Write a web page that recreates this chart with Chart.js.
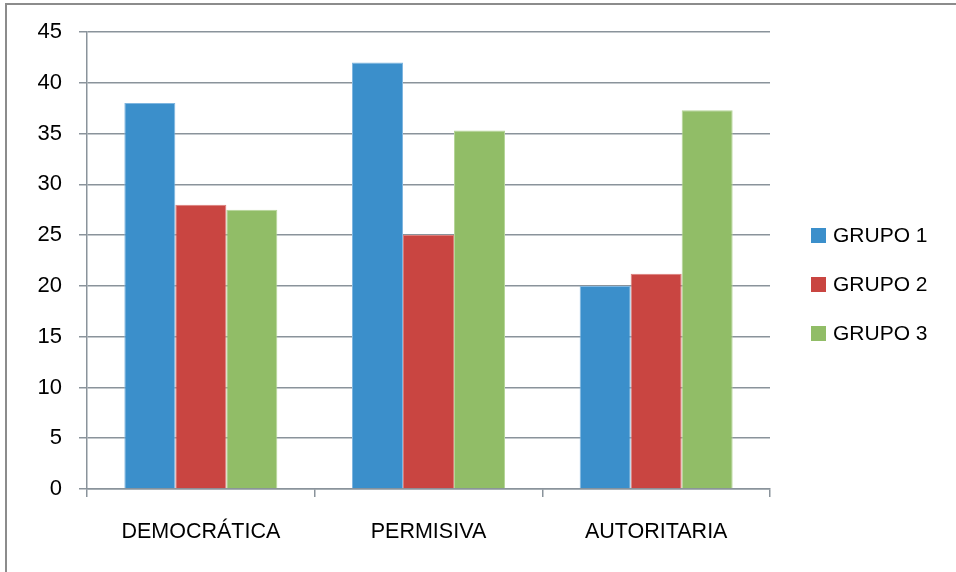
<!DOCTYPE html>
<html>
<head>
<meta charset="utf-8">
<script src="https://cdn.jsdelivr.net/npm/chart.js@4.4.1/dist/chart.umd.min.js"></script>
<style>
  html, body { margin: 0; padding: 0; background: #fff; }
  #wrap { position: relative; width: 956px; height: 572px; overflow: hidden; }
  #frame { position: absolute; left: 5px; top: 3px; width: 1000px; height: 700px;
           border-left: 2px solid #8c8c8c; border-top: 2px solid #8c8c8c; }
  #c { position: absolute; left: 0; top: 0; }
</style>
</head>
<body>
<div id="wrap">
  <div id="frame"></div>
  <canvas id="c" width="956" height="572"></canvas>
</div>
<script>
const categories = ['DEMOCRÁTICA', 'PERMISIVA', 'AUTORITARIA'];
const grupo1 = [38, 42, 20];
const grupo2 = [28, 25, 21.2];
const grupo3 = [27.5, 35.3, 37.3];
const seriesNames = ['GRUPO 1', 'GRUPO 2', 'GRUPO 3'];
const yTicks = [0, 5, 10, 15, 20, 25, 30, 35, 40, 45];

const FONT = '"Liberation Sans", Arial, sans-serif';
const gridColor = '#8a939b';

const legendPlugin = {
  id: 'sideLegend',
  afterDraw(chart) {
    const ctx = chart.ctx;
    ctx.save();
    ctx.font = '21px ' + FONT;
    ctx.textBaseline = 'middle';
    ctx.textAlign = 'left';
    chart.data.datasets.forEach((ds, i) => {
      const cy = 235.5 + i * 49;
      ctx.fillStyle = ds.backgroundColor;
      ctx.fillRect(811, cy - 7.5, 15, 15);
      ctx.fillStyle = '#000';
      ctx.fillText(ds.label, 833, cy + 1);
    });
    ctx.restore();
  }
};

new Chart(document.getElementById('c'), {
  type: 'bar',
  data: {
    labels: categories,
    datasets: [
      { label: seriesNames[0], data: grupo1, backgroundColor: '#3b8fcb', borderColor: '#7fb6e0', borderWidth: 1 },
      { label: seriesNames[1], data: grupo2, backgroundColor: '#c94541', borderColor: '#dc7d79', borderWidth: 1 },
      { label: seriesNames[2], data: grupo3, backgroundColor: '#91bd67', borderColor: '#b5d598', borderWidth: 1 }
    ]
  },
  options: {
    responsive: false,
    animation: false,
    layout: { padding: { left: 0, right: 186, top: 32, bottom: 0 } },
    plugins: { legend: { display: false }, tooltip: { enabled: false } },
    datasets: { bar: { categoryPercentage: 0.672, barPercentage: 1.0 } },
    scales: {
      x: {
        grid: { display: true, drawOnChartArea: false, drawTicks: true, tickLength: 8, color: gridColor, lineWidth: 1.5, offset: true },
        border: { display: true, color: gridColor, width: 1.5 },
        ticks: { color: '#000', font: { family: FONT, size: 21.5 }, padding: 22, maxRotation: 0 },
        afterFit(scale) { scale.height = 83; }
      },
      y: {
        min: 0, max: 45,
        afterBuildTicks(scale) { scale.ticks = yTicks.map(v => ({ value: v })); },
        grid: { display: true, drawOnChartArea: true, drawTicks: true, tickLength: 8, color: gridColor, lineWidth: 1.5 },
        border: { display: true, color: gridColor, width: 1.5 },
        ticks: { color: '#000', font: { family: FONT, size: 22 }, padding: 17 },
        afterFit(scale) { scale.width = 87; }
      }
    }
  },
  plugins: [legendPlugin]
});
</script>
</body>
</html>
